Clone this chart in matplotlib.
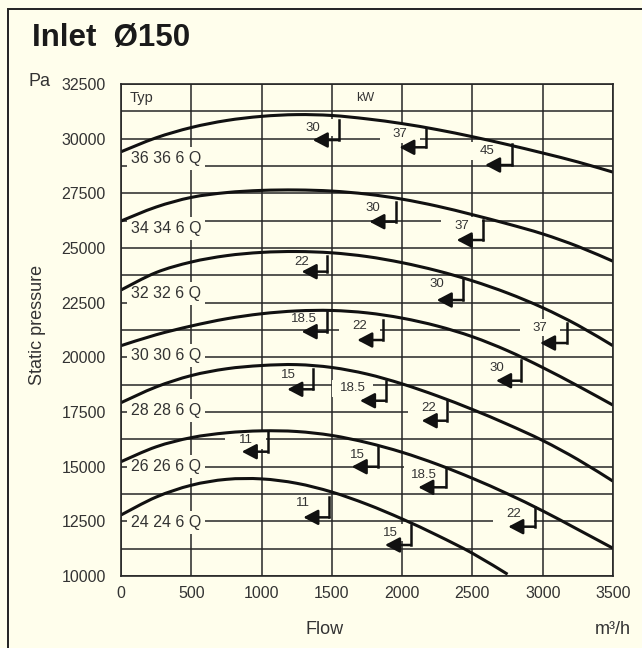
"""
Fan curve chart: static pressure vs flow for inlet 150, with kW motor markers.
"""
import numpy as np, matplotlib
matplotlib.use('Agg')
import matplotlib.pyplot as plt
from matplotlib.patches import Rectangle, PathPatch
from matplotlib.path import Path

plt.rcParams.update({
    'font.family': ['Liberation Sans', 'DejaVu Sans'],
    'font.size': 11,
})

BG = '#FFFEEC'
INK = '#111111'
GRID = '#262626'
TXT = '#333333'

# ── data ──
flow = [0, 250, 500, 750, 1000, 1250, 1500, 1750, 2000, 2250, 2500, 2750, 3000, 3250, 3500]
p36 = [29400, 30040, 30510, 30830, 31020, 31100, 31060, 30904, 30689, 30414, 30089, 29729, 29344, 28934, 28469]
p34 = [26234, 26874, 27314, 27534, 27634, 27654, 27604, 27464, 27234, 26914, 26524, 26104, 25644, 25074, 24394]
p32 = [23079, 23879, 24359, 24649, 24799, 24839, 24779, 24609, 24329, 23959, 23499, 22939, 22269, 21469, 20529]
p30 = [20533, 21033, 21433, 21763, 21993, 22123, 22143, 22033, 21793, 21433, 20943, 20303, 19533, 18693, 17813]
p28 = [17926, 18646, 19166, 19476, 19626, 19666, 19536, 19236, 18786, 18236, 17616, 16936, 16196, 15326, 14336]
p26 = [15228, 15908, 16328, 16548, 16638, 16608, 16428, 16098, 15658, 15108, 14468, 13758, 12978, 12128, 11268]
flow24 = [0, 250, 500, 750, 1000, 1250, 1500, 1750, 2000, 2250, 2500, 2750]
p24 = [12790, 13610, 14150, 14420, 14440, 14240, 13840, 13280, 12610, 11860, 11040, 10080]

curves = [(flow, p36), (flow, p34), (flow, p32), (flow, p30), (flow, p28), (flow, p26), (flow24, p24)]
types = ['36 36 6 Q', '34 34 6 Q', '32 32 6 Q', '30 30 6 Q', '28 28 6 Q', '26 26 6 Q', '24 24 6 Q']
type_y = [29100, 25900, 22930, 20106, 17591, 15000, 12440]

# kW markers: label, vertical x, top, bottom, arrow tip x, text x, text y
kw_lab = ['30', '37', '45', '30', '37', '22', '30', '18.5', '22', '37',
          '30', '15', '18.5', '22', '11', '15', '18.5', '11', '22', '15']
kw_x = [1551, 2170, 2784, 1954, 2578, 1468, 2435, 1468, 1862, 3170,
        2846, 1368, 1885, 2317, 1043, 1831, 2310, 1482, 2945, 2061]
kw_top = [30853, 30500, 29755, 27117, 26280, 24634, 23613, 22087, 21707, 21556,
          19878, 19452, 18931, 18003, 16646, 15885, 14953, 13626, 13169, 12332]
kw_bot = [29938, 29605, 28795, 26203, 25365, 23918, 22621, 21175, 20792, 20655,
          18931, 18538, 18016, 17102, 15685, 14998, 14056, 12682, 12255, 11418]
kw_tip = [1364, 1980, 2590, 1767, 2388, 1285, 2246, 1285, 1681, 2981,
          2668, 1183, 1700, 2139, 859, 1641, 2115, 1297, 2755, 1878]
kw_tx = [1364, 1985, 2602, 1788, 2424, 1285, 2246, 1302, 1695, 2981,
         2677, 1193, 1648, 2186, 887, 1681, 2156, 1292, 2791, 1914]
kw_ty = [30500, 30213, 29435, 26815, 26006, 24373, 23338, 21739, 21433, 21357,
         19498, 19192, 18581, 17697, 16219, 15533, 14619, 13323, 12835, 11980]


def smooth_path(xs, ys):
    # Catmull-Rom through the read points, drawn as cubic Bezier segments
    pts = np.column_stack([xs, ys]).astype(float)
    ext = np.vstack([pts[0], pts, pts[-1]])
    verts, codes = [pts[0]], [Path.MOVETO]
    for i in range(len(pts) - 1):
        p0, p1, p2, p3 = ext[i], ext[i + 1], ext[i + 2], ext[i + 3]
        verts += [p1 + (p2 - p0) / 6, p2 - (p3 - p1) / 6, p2]
        codes += [Path.CURVE4] * 3
    return Path(verts, codes)


fig = plt.figure(figsize=(6.42, 6.48), dpi=100, facecolor=BG)
ax = fig.add_axes([121/642, 1 - 576/648, 492/642, 492/648], facecolor=BG)

ax.set_xlim(0, 3500)
ax.set_ylim(10000, 32500)
ax.set_xticks(np.arange(0, 3501, 500))
ax.set_yticks(np.arange(10000, 32501, 2500))
ax.set_yticks(np.arange(10000, 32501, 1250), minor=True)
ax.tick_params(which='both', length=0, colors=TXT, labelsize=11.5)
ax.tick_params(axis='y', pad=11)
ax.tick_params(axis='x', pad=7)
ax.grid(True, which='both', axis='y', color=GRID, lw=1.1, zorder=1)
ax.grid(True, which='major', axis='x', color=GRID, lw=1.1, zorder=1)
ax.set_axisbelow(True)
for s in ax.spines.values():
    s.set_color(GRID)
    s.set_linewidth(1.2)
    s.set_zorder(6)

# curves
for fx, py in curves:
    ax.add_patch(PathPatch(smooth_path(fx, py), fill=False, ec=INK, lw=2.2,
                           capstyle='butt', zorder=4))

# type labels (break the grid behind them)
for name, yy in zip(types, type_y):
    ax.text(70, yy, name, ha='left', va='center', fontsize=11.5, color=TXT, zorder=3,
            bbox=dict(boxstyle='square,pad=0.25', fc=BG, ec='none'))

ax.text(60, 31875, 'Typ', ha='left', va='center', fontsize=10.5, color=TXT, zorder=3)
ax.text(1736, 31875, 'kW', ha='center', va='center', fontsize=9, color=TXT, zorder=3)

# kW markers
bw, bh = 290, 780
for lab, xv, yt, yb, xt, tx, ty in zip(kw_lab, kw_x, kw_top, kw_bot, kw_tip, kw_tx, kw_ty):
    ax.add_patch(Rectangle((tx - bw/2, ty - bh/2), bw, bh, fc=BG, ec='none', zorder=2))
    ax.text(tx, ty, lab, ha='center', va='center', fontsize=9.5, color=TXT, zorder=3)
    ax.plot([xv, xv], [yt, yb], color=INK, lw=1.8, solid_capstyle='projecting', zorder=5)
    ax.annotate('', xy=(xt, yb), xytext=(xv, yb), zorder=5,
                arrowprops=dict(arrowstyle='-|>,head_length=0.8,head_width=0.42',
                                color=INK, lw=1.8, shrinkA=0, shrinkB=0, mutation_scale=11))

# outer texts
fig.text(32/642, 1 - 46/648, 'Inlet  Ø150', fontsize=22.5, fontweight='bold',
         color='#1a1a1a', ha='left', va='baseline')
fig.text(39/642, 1 - 82/648, 'Pa', fontsize=13, color=TXT, ha='center', va='center')
fig.text(37/642, 1 - 325/648, 'Static pressure', fontsize=13, color=TXT,
         rotation=90, ha='center', va='center')
fig.text(325/642, 1 - 629/648, 'Flow', fontsize=13, color=TXT, ha='center', va='center')
fig.text(613/642, 1 - 630/648, 'm³/h', fontsize=13, color=TXT, ha='center', va='center')

# panel border (left and top edges visible)
fig.add_artist(Rectangle((8/642, -0.5), 1.5, 0.5 + 1 - 8.5/648, transform=fig.transFigure,
                         fill=False, ec='#222222', lw=1.4))

fig.savefig('out.png', dpi=100, facecolor=BG)
